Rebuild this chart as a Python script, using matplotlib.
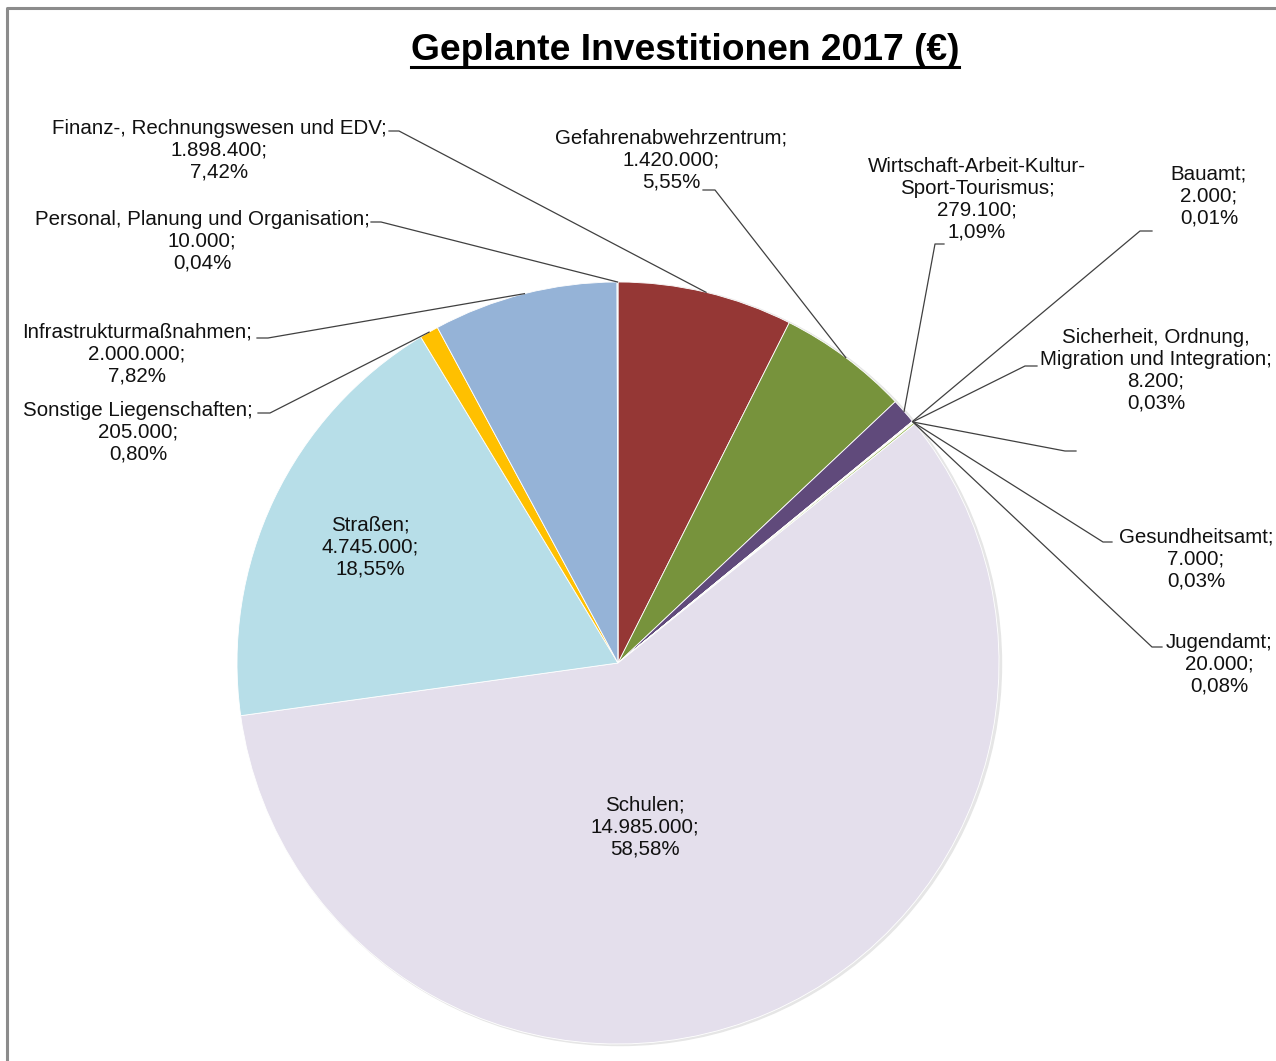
import matplotlib
matplotlib.use("Agg")
import matplotlib.pyplot as plt
from matplotlib.patches import Circle
import numpy as np

W, H = 1276, 1061

# data (clockwise from 12 o'clock)
names = [
    "Finanz-, Rechnungswesen und EDV",
    "Gefahrenabwehrzentrum",
    "Wirtschaft-Arbeit-Kultur-\nSport-Tourismus",
    "Bauamt",
    "Sicherheit, Ordnung,\nMigration und Integration",
    "",
    "Gesundheitsamt",
    "Jugendamt",
    "Schulen",
    "Straßen",
    "Sonstige Liegenschaften",
    "Infrastrukturmaßnahmen",
    "Personal, Planung und Organisation",
]
values = [1898400, 1420000, 279100, 2000, 8200, 0, 7000, 20000,
          14985000, 4745000, 205000, 2000000, 10000]
colors = ["#953735", "#77933C", "#604A7B", "#31859C", "#E46C0A", "#4F81BD",
          "#C0504D", "#9BBB59", "#E4DFEC", "#B7DEE8", "#FFC000", "#95B3D7",
          "#4BACC6"]

# layout in picture pixels (y down): text centre, elbow of leader, stub end
label_layout = {
    0: ((219, 150), (399, 131), (389, 131)),
    1: ((671, 160), (715, 190), (703, 190)),
    2: ((977, 199), (935, 244), (944, 244)),
    3: ((1209, 196), (1140, 231), (1152, 231)),
    4: ((1156, 370), (1025, 366), (1037, 366)),
    5: (None, (1065, 451), (1076, 451)),
    6: ((1196, 559), (1103, 542), (1112, 542)),
    7: ((1219, 664), (1152, 647), (1162, 647)),
    8: ((645, 827), None, None),
    9: ((370, 547), None, None),
    10: ((138, 432), (270, 413), (258, 413)),
    11: ((137, 354), (268, 338), (257, 338)),
    12: ((202, 241), (381, 222), (371, 222)),
}

cx, cy, R = 618, 663, 381


def px(x, y):
    return x, H - y


def label_text(i):
    total = sum(values)
    val = f"{values[i]:,}".replace(",", ".")
    pct = f"{values[i] / total * 100:.2f}".replace(".", ",") + "%"
    return f"{names[i]};\n{val};\n{pct}"


plt.rcParams["font.family"] = ["Liberation Sans", "DejaVu Sans"]

fig = plt.figure(figsize=(W / 100, H / 100), dpi=100)
ax = fig.add_axes([0, 0, 1, 1])

# soft shadow behind the pie
ax.add_patch(Circle(px(cx + 2, cy + 1), R + 0.5, color="#e6e6e6", zorder=0))

wedges, _ = ax.pie(
    values,
    colors=colors,
    startangle=90,
    counterclock=False,
    center=px(cx, cy),
    radius=R,
    wedgeprops=dict(edgecolor="white", linewidth=0.6),
)

for i, w in enumerate(wedges):
    text_xy, elbow, stub = label_layout[i]
    if elbow is not None:
        mid = np.deg2rad((w.theta1 + w.theta2) / 2)
        ex = cx + R * np.cos(mid)
        ey = cy - R * np.sin(mid)
        xs = [ex, elbow[0], stub[0]]
        ys = [H - ey, H - elbow[1], H - stub[1]]
        ax.plot(xs, ys, color="#404040", lw=0.9, zorder=3)
    if text_xy is not None and names[i]:
        ax.text(*px(*text_xy), label_text(i), ha="center", va="center",
                fontsize=14.8, linespacing=1.18, color="#111111", zorder=4)

title = ax.text(*px(685, 50), "Geplante Investitionen 2017 (€)", ha="center",
                va="center", fontsize=26.8, fontweight="bold", color="black")

# chart frame (left and top edges visible)
ax.plot([7, 7, W], [0, H - 8, H - 8], color="#8c8c8c", lw=2.2, zorder=5)

ax.set_xlim(0, W)
ax.set_ylim(0, H)
ax.set_aspect("equal")
ax.axis("off")

fig.canvas.draw()
bb = title.get_window_extent()
ax.plot([bb.x0, bb.x1], [bb.y0 + 1, bb.y0 + 1], color="black", lw=2.2)

fig.savefig("out.png", dpi=100)
